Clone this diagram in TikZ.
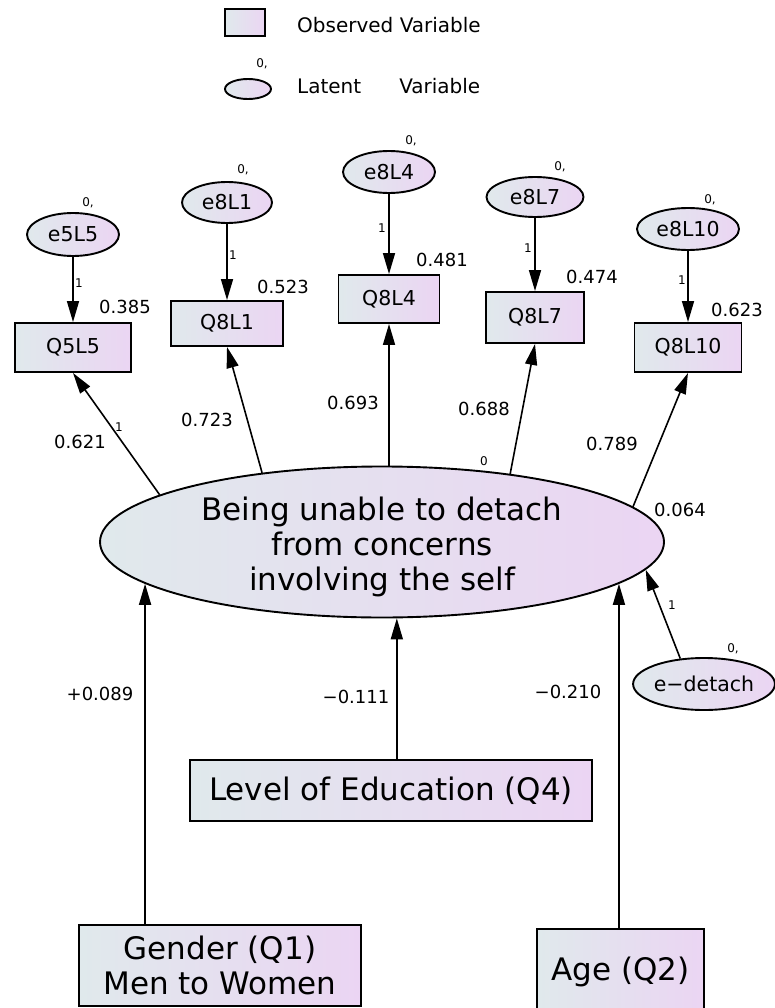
\documentclass[tikz,border=0pt]{standalone}
\usepackage{fontspec}
\setmainfont{DejaVu Sans}
\usetikzlibrary{arrows.meta,shapes.geometric}

\definecolor{shadeL}{RGB}{224,233,236}
\definecolor{shadeR}{RGB}{235,213,243}

\begin{document}
\begin{tikzpicture}[x=1pt,y=-1pt,
  obs/.style={draw=black, line width=1.9pt, rectangle, left color=shadeL, right color=shadeR,
              inner sep=0pt, font=\fontsize{20.5}{24}\selectfont},
  lat/.style={draw=black, line width=1.9pt, ellipse, left color=shadeL, right color=shadeR,
              inner sep=0pt, font=\fontsize{20.5}{24}\selectfont},
  bigtext/.style={font=\fontsize{31}{35}\selectfont},
  legtext/.style={anchor=west, inner sep=0pt, font=\fontsize{20}{24}\selectfont},
  coef/.style={inner sep=0pt, font=\fontsize{18}{20}\selectfont},
  fixlab/.style={inner sep=0pt, font=\fontsize{12}{13}\selectfont},
  link/.style={line width=1.6pt, -{Triangle[length=21pt,width=12pt]}},
]
\useasboundingbox (0,0) rectangle (775,1008);
\clip (0,0) rectangle (775,1008);

% legend
\node[obs, minimum width=40pt, minimum height=27pt] (legbox) at (245,22.5) {};
\node[legtext] (legobs) at (297,25) {Observed Variable};
\node[lat, minimum width=46pt, minimum height=20pt] (legell) at (248,89) {};
\node[fixlab] (legzero) at (262,64) {0,};
\node[legtext] (leglat) at (297,86) {Latent\hspace{38pt}Variable};

% error terms
\node[lat, minimum width=92pt, minimum height=43pt] (e1) at (73,234.5) {e5L5};
\node[lat, minimum width=90pt, minimum height=41pt] (e2) at (227,202.5) {e8L1};
\node[lat, minimum width=92pt, minimum height=42pt] (e3) at (389,172) {e8L4};
\node[lat, minimum width=97pt, minimum height=40pt] (e4) at (535,197) {e8L7};
\node[lat, minimum width=102pt, minimum height=42pt] (e5) at (688,229) {e8L10};
\node[lat, minimum width=138pt, minimum height=52pt] (ed) at (704,684) {e−detach};

% observed indicators
\node[obs, minimum width=116pt, minimum height=49pt] (q1) at (73,347.5) {Q5L5};
\node[obs, minimum width=112pt, minimum height=45pt] (q2) at (227,323.5) {Q8L1};
\node[obs, minimum width=101pt, minimum height=48pt] (q3) at (389,299) {Q8L4};
\node[obs, minimum width=98pt, minimum height=51pt] (q4) at (535,317.5) {Q8L7};
\node[obs, minimum width=107pt, minimum height=49pt] (q5) at (688,347.5) {Q8L10};

% latent factor (text lowered slightly inside the ellipse)
\node[lat, bigtext, minimum width=564pt, minimum height=151pt] (fac) at (382,542)
  {\raisebox{-6pt}[\height][\depth]{\begin{tabular}{@{}c@{}}Being unable to detach\\from concerns\\involving the self\end{tabular}}};

% predictors
\node[obs, bigtext, minimum width=402pt, minimum height=61pt] (edu) at (391,790.5) {Level of Education (Q4)};
\node[obs, bigtext, minimum width=282pt, minimum height=81pt, align=center] (gen) at (220,965.5) {Gender (Q1)\\Men to Women};
\node[obs, bigtext, minimum width=167pt, minimum height=86pt] (age) at (620.5,972) {Age (Q2)};

% error paths
\draw[link] (e1) -- (q1);
\draw[link] (e2) -- (q2);
\draw[link] (e3) -- (q3);
\draw[link] (e4) -- (q4);
\draw[link] (e5) -- (q5);
\draw[link] (ed.133.8) -- (fac.354.2);

% loadings
\draw[link] (fac.168.9) -- (q1.south);
\draw[link] (fac.150.1) -- (q2.south);
\draw[link] (q3.south |- fac.north) -- (q3.south);
\draw[link] (fac.28.3) -- (q4.south);
\draw[link] (fac.8.78) -- (q5.south);

% regressions
\draw[link] (fac.190.62 |- gen.north) -- (fac.190.62);
\draw[link] (fac.281.98 |- edu.north) -- (fac.281.98);
\draw[link] (fac.350.07 |- age.north) -- (fac.350.07);

% squared multiple correlations
\node[coef] (r1) at (125,307) {0.385};
\node[coef] (r2) at (283,287) {0.523};
\node[coef] (r3) at (442,260) {0.481};
\node[coef] (r4) at (592,277) {0.474};
\node[coef] (r5) at (737,310) {0.623};
\node[coef] (rf) at (680,510) {0.064};

% loading estimates
\node[coef] (w1) at (80,442) {0.621};
\node[coef] (w2) at (207,420) {0.723};
\node[coef] (w3) at (353,403) {0.693};
\node[coef] (w4) at (484,409) {0.688};
\node[coef] (w5) at (612,444) {0.789};

% regression estimates
\node[coef] (b1) at (100,694) {+0.089};
\node[coef] (b2) at (356,697) {−0.111};
\node[coef] (b3) at (568,692) {−0.210};

% means and fixed weights
\node[fixlab] (z1) at (88,203) {0,};
\node[fixlab] (z2) at (243,170) {0,};
\node[fixlab] (z3) at (411,141) {0,};
\node[fixlab] (z4) at (560,167) {0,};
\node[fixlab] (z5) at (710,200) {0,};
\node[fixlab] (z6) at (733,649) {0,};
\node[fixlab] (zf) at (484,461) {0};
\node[fixlab] (o1) at (79,283) {1};
\node[fixlab] (o2) at (233,255) {1};
\node[fixlab] (o3) at (382,228) {1};
\node[fixlab] (o4) at (528,248) {1};
\node[fixlab] (o5) at (682,280) {1};
\node[fixlab] (o6) at (119,427) {1};
\node[fixlab] (o7) at (672,605) {1};
\end{tikzpicture}
\end{document}
